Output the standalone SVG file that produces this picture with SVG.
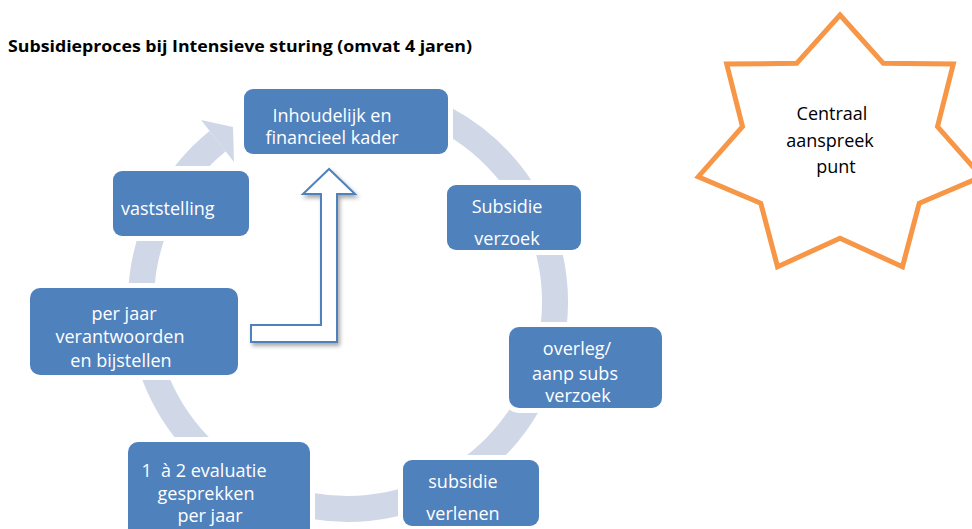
<svg xmlns="http://www.w3.org/2000/svg" width="972" height="529" viewBox="0 0 972 529">
<defs>
<style>
.box{fill:#4F81BD;stroke:#fff;stroke-width:10;paint-order:stroke fill}
.t{font-family:"Open Sans","Liberation Sans",sans-serif;font-size:18px;fill:#fff;text-anchor:middle;white-space:pre}
.st{font-family:"Open Sans","Liberation Sans",sans-serif;font-size:18px;fill:#000;text-anchor:middle}
.title{font-family:"Open Sans","Liberation Sans",sans-serif;font-size:16px;font-weight:bold;fill:#000}
.ring{fill:none;stroke:#D0D8E8;stroke-width:26}
</style>
<filter id="sh" x="-20%" y="-20%" width="140%" height="140%">
<feGaussianBlur in="SourceAlpha" stdDeviation="2"/>
<feOffset dx="2" dy="3" result="b"/>
<feComponentTransfer><feFuncA type="linear" slope="0.35"/></feComponentTransfer>
<feMerge><feMergeNode/><feMergeNode in="SourceGraphic"/></feMerge>
</filter>
</defs>
<rect width="972" height="529" fill="#fff"/>
<text class="title" x="8" y="52" textLength="464" lengthAdjust="spacingAndGlyphs">Subsidieproces bij Intensieve sturing (omvat 4 jaren)</text>
<g id="connectors">
<path class="ring" d="M445.2 119.2 A207 207 0 1 1 217.7 141.1"/>
<polygon points="201,120 233,127 234,162" fill="#D0D8E8"/>
<line x1="547" y1="127" x2="724" y2="127" stroke="#4F81BD" stroke-width="4" filter="url(#sh)"/>
<polygon points="329,169 303,194 321,194 321,325 251,325 251,342 337,342 337,194 355,194" fill="#fff" stroke="#4F81BD" stroke-width="2" filter="url(#sh)"/>
</g>
<g id="node-kader">
<rect class="box" x="244" y="89" width="204" height="65" rx="9"/>
<text class="t" x="332" y="122">Inhoudelijk en</text>
<text class="t" x="332" y="144">financieel kader</text>
</g>
<g id="node-verzoek">
<rect class="box" x="447" y="185" width="134" height="65" rx="9"/>
<text class="t" x="507" y="213">Subsidie</text>
<text class="t" x="507" y="245">verzoek</text>
</g>
<g id="node-overleg">
<rect class="box" x="509" y="327" width="153" height="81" rx="10"/>
<text class="t" x="577" y="355">overleg/</text>
<text class="t" x="575" y="380">aanp subs</text>
<text class="t" x="578" y="402">verzoek</text>
</g>
<g id="node-verlenen">
<rect class="box" x="403" y="460" width="136" height="66" rx="9"/>
<text class="t" x="463" y="488">subsidie</text>
<text class="t" x="463" y="520">verlenen</text>
</g>
<g id="node-evaluatie">
<rect class="box" x="128" y="442" width="182" height="100" rx="10"/>
<text class="t" x="204" y="477">1  à 2 evaluatie</text>
<text class="t" x="206" y="500">gesprekken</text>
<text class="t" x="210" y="522">per jaar</text>
</g>
<g id="node-verantwoorden">
<rect class="box" x="30" y="288" width="208" height="87" rx="10"/>
<text class="t" x="124" y="320">per jaar</text>
<text class="t" x="120" y="343">verantwoorden</text>
<text class="t" x="121" y="367">en bijstellen</text>
</g>
<g id="node-vaststelling">
<rect class="box" x="113" y="171" width="136" height="65" rx="9"/>
<text class="t" x="121" y="215" style="text-anchor:start">vaststelling</text>
</g>
<g id="node-centraal">
<polygon points="840,15 883.3,63.3 953.3,64 937.5,126.7 981.7,176.7 919.2,203.3 902.5,266.7 840,238.3 777.5,266.7 760.8,203.3 698.3,176.7 742.5,126.7 726.7,64 796.7,63.3" fill="#fff" stroke="#F79646" stroke-width="5"/>
<text class="st" x="832" y="120">Centraal</text>
<text class="st" x="830" y="147">aanspreek</text>
<text class="st" x="836" y="173">punt</text>
</g>
</svg>
